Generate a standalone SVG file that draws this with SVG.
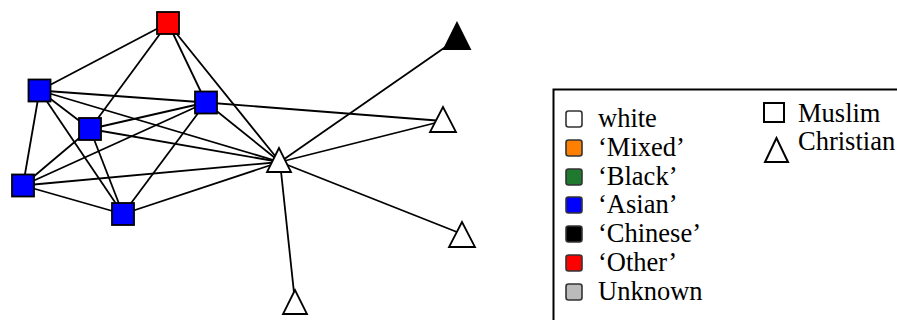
<svg xmlns="http://www.w3.org/2000/svg" width="897" height="320" viewBox="0 0 897 320">
<style>
.e{stroke:#000;stroke-width:1.8;fill:none}
.sq{stroke:#000;stroke-width:1.8}
.tri{stroke:#000;stroke-width:1.8;fill:#fff;stroke-linejoin:miter}
.lg{stroke:#333;stroke-width:1.6}
.t{font-family:"Liberation Serif","Times New Roman",serif;font-size:26.5px;fill:#000}
</style>
<rect width="897" height="320" fill="#fff"/>
<g id="edges">
<line class="e" x1="168" y1="23" x2="39.5" y2="90.5"/>
<line class="e" x1="168" y1="23" x2="90" y2="129"/>
<line class="e" x1="168" y1="23" x2="206" y2="102.5"/>
<line class="e" x1="168" y1="23" x2="280" y2="162"/>
<line class="e" x1="39.5" y1="90.5" x2="206" y2="102.5"/>
<line class="e" x1="39.5" y1="90.5" x2="90" y2="129"/>
<line class="e" x1="39.5" y1="90.5" x2="23" y2="185.5"/>
<line class="e" x1="39.5" y1="90.5" x2="123" y2="214"/>
<line class="e" x1="39.5" y1="90.5" x2="280" y2="162"/>
<line class="e" x1="206" y1="102.5" x2="443" y2="121"/>
<line class="e" x1="206" y1="102.5" x2="90" y2="129"/>
<line class="e" x1="206" y1="102.5" x2="23" y2="185.5"/>
<line class="e" x1="206" y1="102.5" x2="123" y2="214"/>
<line class="e" x1="206" y1="102.5" x2="280" y2="162"/>
<line class="e" x1="90" y1="129" x2="23" y2="185.5"/>
<line class="e" x1="90" y1="129" x2="123" y2="214"/>
<line class="e" x1="90" y1="129" x2="280" y2="162"/>
<line class="e" x1="23" y1="185.5" x2="123" y2="214"/>
<line class="e" x1="23" y1="185.5" x2="280" y2="162"/>
<line class="e" x1="123" y1="214" x2="280" y2="162"/>
<line class="e" x1="280" y1="162" x2="457" y2="39"/>
<line class="e" x1="280" y1="162" x2="443" y2="121"/>
<line class="e" x1="280" y1="162" x2="462" y2="234"/>
<line class="e" x1="280" y1="162" x2="295" y2="302"/>
</g>
<g id="node-red"><rect class="sq" x="157" y="12" width="22" height="22" fill="#ff0000"/></g>
<g id="node-a"><rect class="sq" x="28.5" y="79.5" width="22" height="22" fill="#0000ff"/></g>
<g id="node-b"><rect class="sq" x="195" y="91.5" width="22" height="22" fill="#0000ff"/></g>
<g id="node-c"><rect class="sq" x="79" y="118" width="22" height="22" fill="#0000ff"/></g>
<g id="node-d"><rect class="sq" x="12" y="174.5" width="22" height="22" fill="#0000ff"/></g>
<g id="node-e"><rect class="sq" x="112" y="203" width="22" height="22" fill="#0000ff"/></g>
<g id="node-t"><polygon class="tri" points="279,148 267,172 291,172"/></g>
<g id="node-k"><polygon class="tri" points="457,23 444,49 470,49" style="fill:#000"/></g>
<g id="node-r1"><polygon class="tri" points="443,107 430,132 456,132"/></g>
<g id="node-r2"><polygon class="tri" points="462,222 449,247 475,247"/></g>
<g id="node-bt"><polygon class="tri" points="295,290 283,314 307,314"/></g>
<g id="legend">
<rect x="553.5" y="89.5" width="400" height="300" fill="none" stroke="#000" stroke-width="2"/>
<rect class="lg" x="566" y="111" width="16" height="16" rx="2.5" fill="#fff"/>
<rect class="lg" x="566" y="140" width="16" height="16" rx="2.5" fill="#ff8000"/>
<rect class="lg" x="566" y="169" width="16" height="16" rx="2.5" fill="#1f7a30"/>
<rect class="lg" x="566" y="197" width="16" height="16" rx="2.5" fill="#0000ff"/>
<rect class="lg" x="566" y="226" width="16" height="16" rx="2.5" fill="#000"/>
<rect class="lg" x="566" y="255" width="16" height="16" rx="2.5" fill="#ff0000"/>
<rect class="lg" x="566" y="284" width="16" height="16" rx="2.5" fill="#bbb"/>
<text class="t" x="598" y="127">white</text>
<text class="t" x="598" y="156">‘Mixed’</text>
<text class="t" x="598" y="185">‘Black’</text>
<text class="t" x="598" y="213">‘Asian’</text>
<text class="t" x="598" y="242">‘Chinese’</text>
<text class="t" x="598" y="271">‘Other’</text>
<text class="t" x="598" y="300">Unknown</text>
<rect x="764" y="103" width="20" height="19" fill="#fff" stroke="#000" stroke-width="2"/>
<text class="t" x="798" y="122">Muslim</text>
<polygon points="776.5,138 765,162 788,162" fill="#fff" stroke="#000" stroke-width="2"/>
<text class="t" x="798" y="150">Christian</text>
</g>
</svg>
